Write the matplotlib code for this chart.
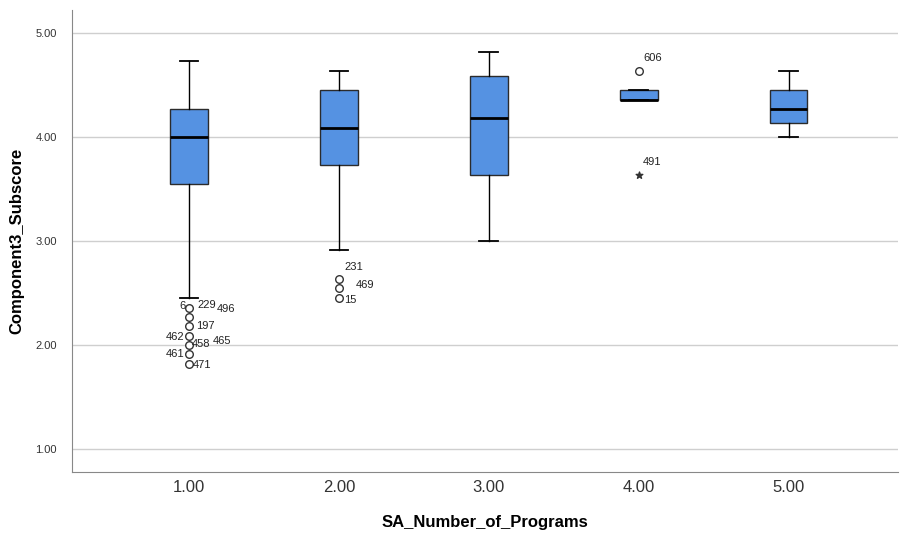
import matplotlib.pyplot as plt

plt.rcParams['font.family'] = ['Liberation Sans', 'DejaVu Sans']

# Data
groups = [1.0, 2.0, 3.0, 4.0, 5.0]
whislo = [2.45, 2.91, 3.00, 4.36, 4.00]
q1 = [3.55, 3.73, 3.64, 4.36, 4.14]
med = [4.00, 4.09, 4.18, 4.36, 4.27]
q3 = [4.27, 4.45, 4.59, 4.45, 4.45]
whishi = [4.73, 4.64, 4.82, 4.45, 4.64]

# outliers: (group, value)
out_x = [1, 1, 1, 1, 1, 1, 1, 2, 2, 2, 4]
out_y = [2.36, 2.27, 2.18, 2.09, 2.00, 1.91, 1.82, 2.64, 2.55, 2.45, 4.64]
# extreme values
ext_x = [4]
ext_y = [3.64]

# case labels: (group, value, text, dx, dy) offsets in points
case_labels = [
    (1, 2.36, '6', -7, 1), (1, 2.36, '229', 6, 2), (1, 2.36, '496', 20, -1),
    (1, 2.18, '197', 5, 0),
    (1, 2.09, '462', -17, -1),
    (1, 2.00, '458', 2, 1), (1, 2.00, '465', 17, 3),
    (1, 1.91, '461', -17, 0),
    (1, 1.82, '471', 3, -1),
    (2, 2.64, '231', 4, 8), (2, 2.55, '469', 12, 2), (2, 2.45, '15', 4, -1),
    (4, 4.64, '606', 3, 9), (4, 3.64, '491', 3, 9),
]

fig = plt.figure(figsize=(9, 5.37), dpi=100)
ax = fig.add_axes([0.08, 0.121, 0.918, 0.86])

stats = []
for i in range(len(groups)):
    stats.append(dict(whislo=whislo[i], q1=q1[i], med=med[i], q3=q3[i], whishi=whishi[i], fliers=[]))

ax.bxp(stats, positions=groups, widths=0.25, patch_artist=True, showfliers=False,
       boxprops=dict(facecolor='#5592E2', edgecolor='#2b2b2b', linewidth=1.0),
       medianprops=dict(color='black', linewidth=2),
       whiskerprops=dict(color='black', linewidth=1),
       capprops=dict(color='black', linewidth=1.3), capwidths=0.125)

ax.scatter(out_x, out_y, s=30, facecolors='white', edgecolors='#333333', linewidths=1, zorder=3)
ax.scatter(ext_x, ext_y, marker='*', s=25, color='#333333', zorder=3)

for g, v, t, dx, dy in case_labels:
    ax.annotate(t, (g, v), xytext=(dx, dy), textcoords='offset points',
                fontsize=8, color='#222222', va='center', ha='left')

ax.set_xlim(0.22, 5.73)
ax.set_ylim(0.78, 5.22)
ax.set_yticks([1, 2, 3, 4, 5])
ax.set_yticklabels(['1.00', '2.00', '3.00', '4.00', '5.00'], fontsize=8, color='#333333')
ax.set_xticks(groups)
ax.set_xticklabels(['1.00', '2.00', '3.00', '4.00', '5.00'], fontsize=12, color='#333333')
ax.tick_params(axis='x', length=0, pad=6)
ax.tick_params(axis='y', length=0, pad=11)
ax.yaxis.grid(True, color='#cfcfcf', linewidth=1)
ax.set_axisbelow(True)

for s in ['top', 'right']:
    ax.spines[s].set_visible(False)
for s in ['left', 'bottom']:
    ax.spines[s].set_color('#888888')

ax.set_xlabel('SA_Number_of_Programs', fontsize=12, fontweight='bold', labelpad=14)
ax.set_ylabel('Component3_Subscore', fontsize=12, fontweight='bold', labelpad=8)

fig.savefig('out.png', dpi=100)
